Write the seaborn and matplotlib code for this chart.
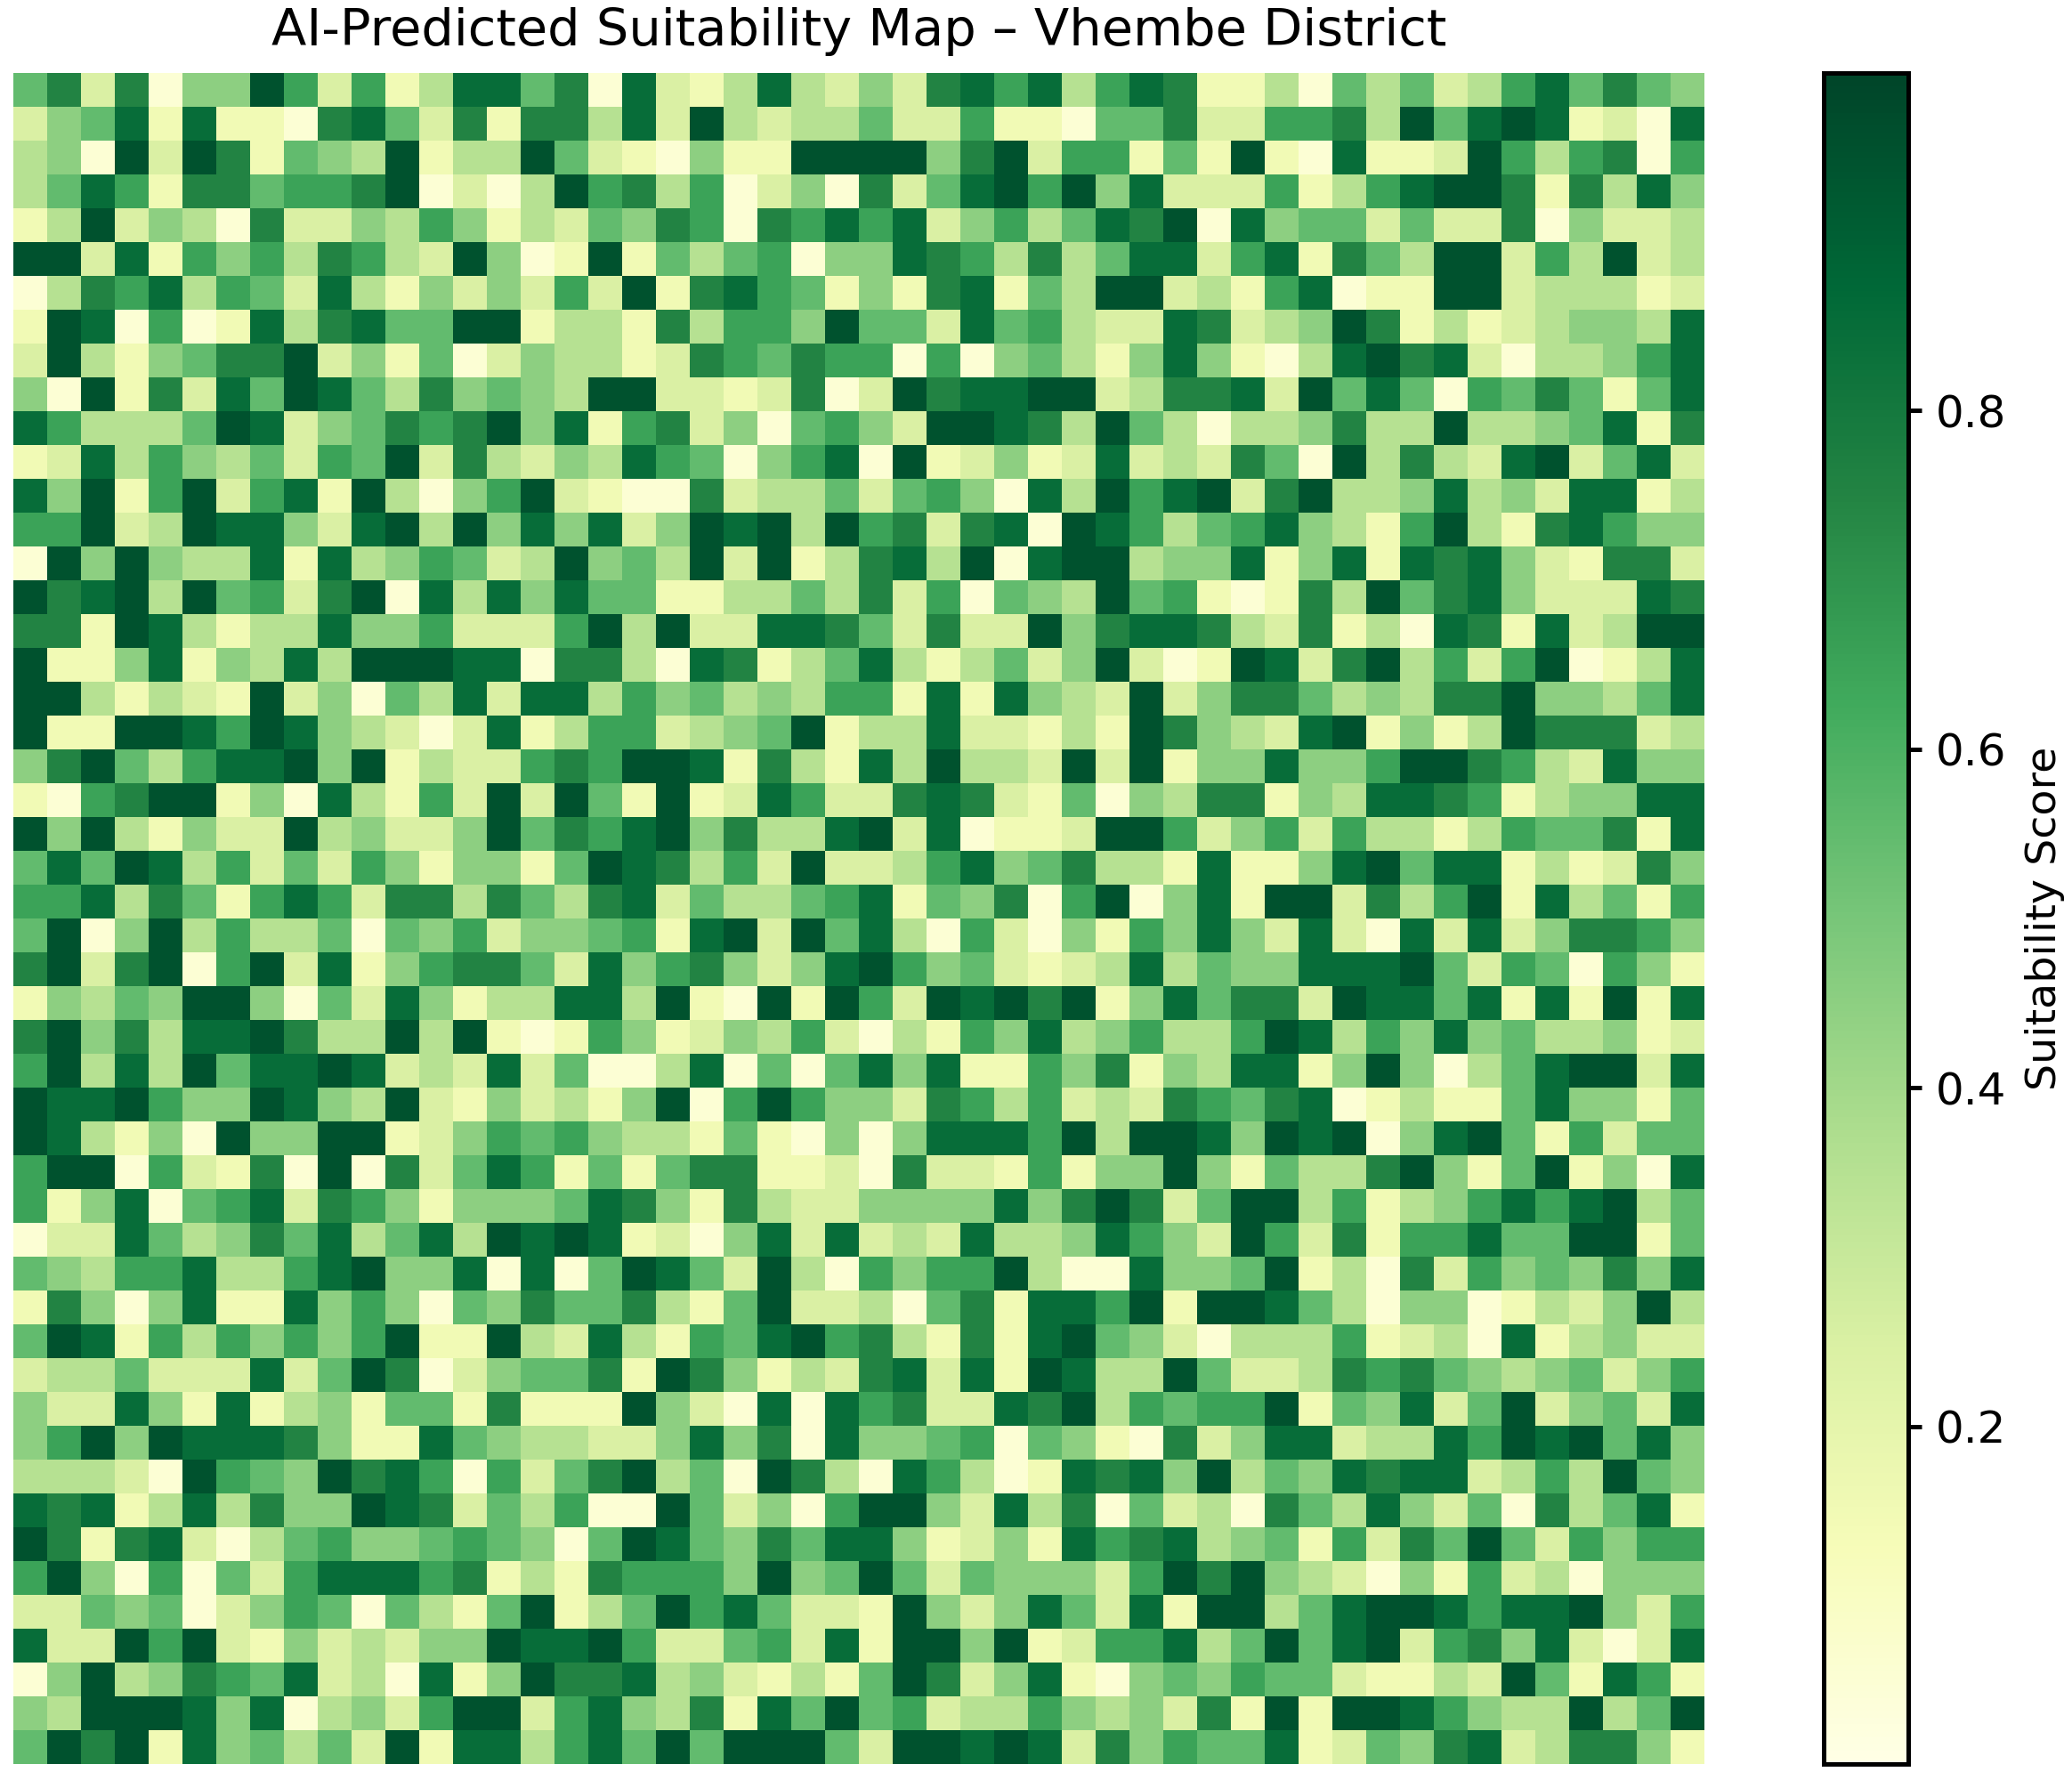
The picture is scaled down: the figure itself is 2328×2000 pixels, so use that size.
import numpy as np
import matplotlib
matplotlib.use("Agg")
import matplotlib.pyplot as plt
import seaborn as sns

TITLE = "AI-Predicted Suitability Map – Vhembe District"
CBAR_LABEL = "Suitability Score"

# Suitability class of every grid cell (0 = lowest decile, 9 = highest).
west = [
"57270449626138857","24581811078527177","34092971543913395","35861775667902039","13924307224364132",
"99281646376329401","03768365283142426","19806018378559913","29314577924150243","40917285985374543",
"86333598245767948","12836435265927324","84916926819304692","66923988428939484","09494338183465239",
"97893956279083848","77198313384462226","91148143839998807","99313219240538288","91199869843202813",
"47953688949132267","10679914083162929","94931422934224957","58598362526414415","66837516862773753",
"59049363350546244","79279069281467752","14354994052841338","79473889733939101","69383958898232825",
"98896449843921423","98314094499124656","69906217090725861","61480568276414445","02285347583583989",
"54366833689448080","17404811846405475","59816364646911932","23352228259702455","42284181341551711",
"46949888741185433","33320965497860625","87813837449872536","97178203564456540","69406052688867131",
"22545024650531591","82296921423244988","04934765823081497","43999848034269926","59791845352918836",
]
central = [
"08213832427868368","38293233522611055","21041199994792661","67360240725896948","54760768682463587",
"91535604487637358","29178651417815399","31736649552856322","31276576606045314","99221270297889923",
"16724056429987395","38650468091241282","10072335256408396","82498939672780986","45392913783908993",
"55113353726054395","93922887527229478","73087135831352492","36453436618184329","66234591338221319",
"69981731839332929","51912862278721504","68947338928011299","98736292236845733","78253356815470690",
"56189295830620416","84674248964521238","83910919629897914","64124362031648346","00380505848116471",
"14906964427636232","43315104048886939","51577112072216144","87417322444484797","81204828232833486",
"59852930646693008","57315922305718869","83165896731718954","71974132782819833","19420808672287936",
"22484708445605410","79350973086301878","00952406994283705","59854758841241867","76664945952544426",
"35968522194248528","96225628199491266","78342131597248104","84371859562336434","85959995299898274",
]
east = [
"7113053523685754","7226673958981208","5191081129636706","2226136899717384","9084552522704223",
"8268175399263923","2316801199233312","8723497131234438","8410389782033468","7782958506575158",
"3033473393345817","3275093732892582","8927933483428813","3568431693178644","4481481878421772",
"6101739578422287","8732713087182399","0198279362690138","2477534377944358","7432891413977723",
"1448446997632844","3771438876134488","6246263313655718","1811489588131274","4819927369183516",
"4842820828247764","3544888952650641","8577298858181918","3369836484533412","4388149403589928",
"7657801311584415","9849890489516255","9415337941591408","2599361346868935","4296271668559915",
"4459130726454748","1998530440132493","2033361230813422","9522376754345246","5669154825924528",
"7248823386989584","4935487882363954","2307538425073581","8345162759526466","9794320416230444",
"1993589986889426","8359589267482028","5465521132951861","2719199864339359","6558125478237741",
]

score = np.array([[(int(c) + 0.5) / 10 for c in w + m + e]
                  for w, m, e in zip(west, central, east)])

W, H = 2328, 2000
fig = plt.figure(figsize=(W / 300, H / 300), dpi=300)
ax = fig.add_axes([15 / W, (H - 1982) / H, 1900 / W, 1900 / H])
cax = fig.add_axes([2048.5 / W, (H - 1982) / H, 95 / W, 1900 / H])

sns.heatmap(score, ax=ax, cbar_ax=cax, cmap="YlGn", vmin=0.0005, vmax=0.9995,
            xticklabels=False, yticklabels=False,
            cbar_kws={"label": CBAR_LABEL})
ax.tick_params(left=False, bottom=False)
ax.set_title(TITLE, fontsize=13.8, pad=7.5)

cbar = ax.collections[0].colorbar
cbar.outline.set_linewidth(1.2)
cbar.outline.set_edgecolor("black")
cbar.ax.tick_params(labelsize=12, width=1.2, length=3.5, pad=4)
cbar.set_label(CBAR_LABEL, fontsize=11.4, labelpad=5)

fig.savefig("out.png", dpi=300)
